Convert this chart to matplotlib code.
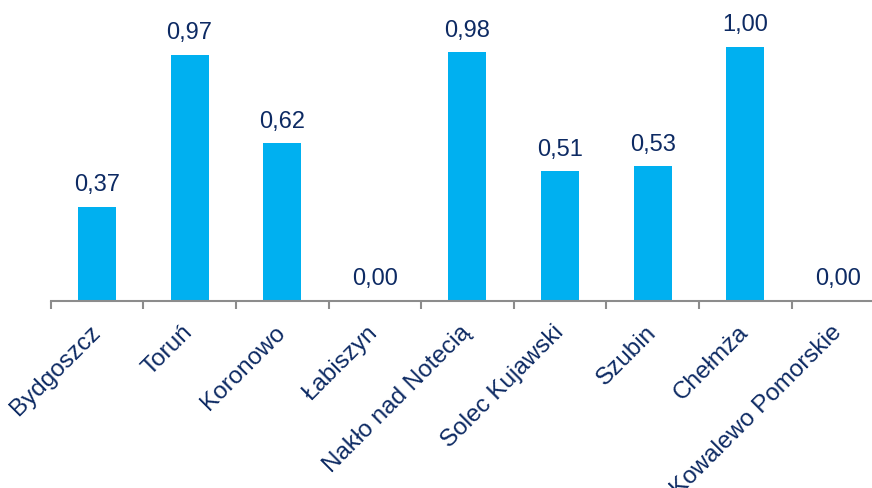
import matplotlib
matplotlib.use("Agg")
import matplotlib.pyplot as plt
import numpy as np

categories = ["Bydgoszcz", "Toruń", "Koronowo", "Łabiszyn", "Nakło nad Notecią",
              "Solec Kujawski", "Szubin", "Chełmża", "Kowalewo Pomorskie"]
values = [0.37, 0.97, 0.62, 0.00, 0.98, 0.51, 0.53, 1.00, 0.00]
value_labels = ["0,37", "0,97", "0,62", "0,00", "0,98", "0,51", "0,53", "1,00", "0,00"]

plt.rcParams['font.family'] = ['Liberation Sans', 'DejaVu Sans']
text_color = "#0D2A63"
bar_color = "#00B0F0"
axis_color = "#8C8C8C"

fig = plt.figure(figsize=(8.72, 4.89), dpi=100)
ax = fig.add_axes([0.0581, 0.3834, 0.956, 0.6166])
x = np.arange(len(categories))
ax.bar(x, values, width=0.41, color=bar_color, zorder=2)
ax.set_xlim(-0.5, len(categories) - 0.5)
ax.set_ylim(0, 1.19)

for xi, v, lab in zip(x, values, value_labels):
    ax.annotate(lab, (xi, v), xytext=(0, 12), textcoords='offset points',
                ha='center', va='baseline', fontsize=17, color=text_color)

for s in ['top', 'right', 'left']:
    ax.spines[s].set_visible(False)
ax.spines['bottom'].set_color(axis_color)
ax.spines['bottom'].set_linewidth(1.5)
ax.set_yticks([])
ax.set_xticks(x)
ax.set_xticklabels(categories, rotation=45, ha='right', va='center',
                   rotation_mode='anchor', fontsize=17.5, color=text_color)
ax.tick_params(axis='x', which='major', length=0, pad=20)
ax.set_xticks(np.arange(-0.5, len(categories)), minor=True)
ax.tick_params(axis='x', which='minor', length=6, width=1.5, color=axis_color)

fig.savefig("out.png", dpi=100)
